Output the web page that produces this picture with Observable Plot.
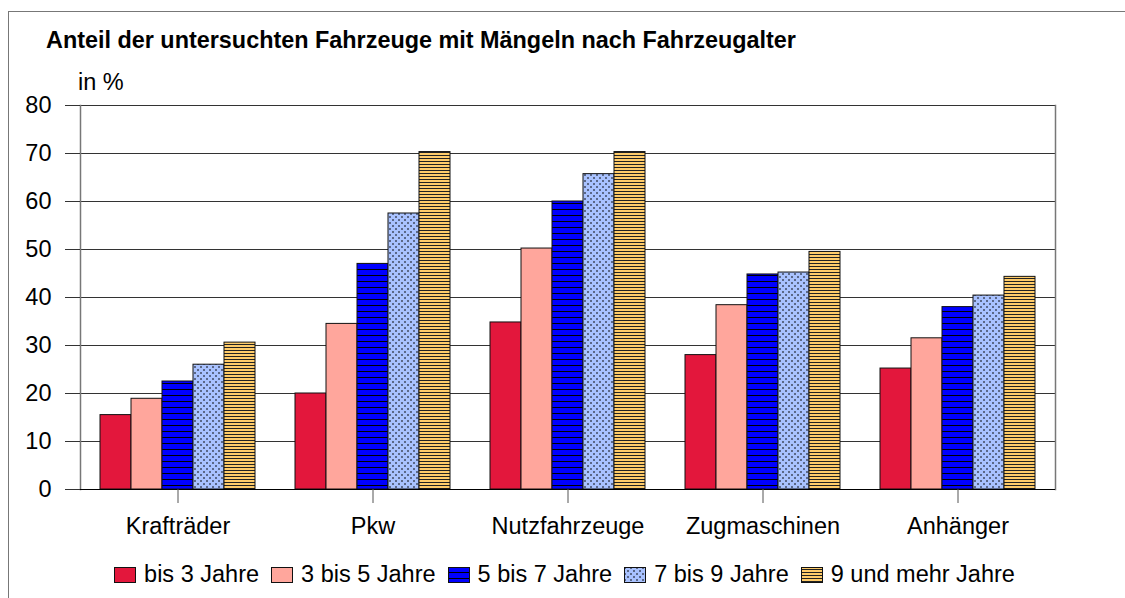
<!DOCTYPE html>
<html><head><meta charset="utf-8">
<script src="https://cdn.jsdelivr.net/npm/d3@7"></script>
<script src="https://cdn.jsdelivr.net/npm/@observablehq/plot@0.6"></script>
<style>
body{margin:0;background:#fff;font-family:"Liberation Sans",Arial,sans-serif;color:#000;}
#wrap{position:relative;width:1125px;height:598px;overflow:hidden;background:#fff;}
#outer{position:absolute;left:8px;top:11px;width:1200px;height:700px;border-top:1.5px solid #777;border-left:1.5px solid #777;}
#title{position:absolute;left:46px;top:27px;font-size:23.4px;line-height:27px;font-weight:bold;white-space:nowrap;}
#unit{position:absolute;left:78px;top:69px;font-size:23.5px;line-height:27px;white-space:nowrap;}
#chart{position:absolute;left:0;top:0;}
#legend{position:absolute;left:0;top:561px;width:1125px;display:flex;justify-content:center;align-items:center;font-size:23.5px;line-height:27px;padding-left:4px;box-sizing:border-box;}
.item{display:flex;align-items:center;margin:0 6px;}
.item svg{margin-right:8px;}
</style></head><body>
<div id="wrap">
<svg width="0" height="0" style="position:absolute">
<defs>
<pattern id="pBlue" patternUnits="userSpaceOnUse" width="6" height="6">
<rect width="6" height="6" fill="#0000ff"/><rect y="5" width="6" height="1" fill="#000"/>
</pattern>
<pattern id="pOrange" patternUnits="userSpaceOnUse" width="3" height="3">
<rect width="3" height="3" fill="#ffcc6a"/><rect y="2" width="3" height="1" fill="#222"/>
</pattern>
<pattern id="pCheck" patternUnits="userSpaceOnUse" width="6" height="6">
<rect width="6" height="6" fill="#a9c2ff"/>
<rect x="0" y="0" width="2" height="2" fill="#5b6888"/>
<rect x="3" y="3" width="2" height="2" fill="#5b6888"/>
</pattern>
</defs>
</svg>
<div id="outer"></div>
<div id="title">Anteil der untersuchten Fahrzeuge mit Mängeln nach Fahrzeugalter</div>
<div id="unit">in %</div>
<div id="chart"></div>
<div id="legend"></div>
</div>
<script>
const categories = ["Krafträder", "Pkw", "Nutzfahrzeuge", "Zugmaschinen", "Anhänger"];
const series = ["bis 3 Jahre", "3 bis 5 Jahre", "5 bis 7 Jahre", "7 bis 9 Jahre", "9 und mehr Jahre"];
const bis3 = [15.5, 20.0, 34.8, 28.0, 25.2];
const bis5 = [18.9, 34.5, 50.2, 38.4, 31.5];
const bis7 = [22.5, 47.0, 60.0, 44.8, 38.0];
const bis9 = [26.0, 57.5, 65.7, 45.2, 40.4];
const ab9 = [30.6, 70.3, 70.3, 49.5, 44.3];
const yTicks = [0, 10, 20, 30, 40, 50, 60, 70, 80];
const fills = ["#e3173c", "#ffa69c", "url(#pBlue)", "url(#pCheck)", "url(#pOrange)"];

const valuesBySeries = [bis3, bis5, bis7, bis9, ab9];
const rows = categories.flatMap((c, i) => series.map((s, j) => ({category: c, series: s, value: valuesBySeries[j][i]})));

const chart = Plot.plot({
  width: 1125, height: 545,
  marginLeft: 78, marginRight: 68, marginTop: 105, marginBottom: 56,
  style: {fontFamily: '"Liberation Sans", Arial, sans-serif', fontSize: "23.5px", background: "transparent", color: "#000"},
  fx: {domain: categories, paddingInner: 0, paddingOuter: 0, label: null},
  x: {domain: series, paddingInner: 0, paddingOuter: 0.625, axis: null},
  y: {domain: [0, 80], label: null},
  color: {domain: series, range: fills},
  marks: [
    Plot.ruleY(yTicks, {y: d => d, stroke: "#333", strokeWidth: 1.2}),
    Plot.frame({anchor: "left", fx: [categories[0]], stroke: "#777", strokeWidth: 1.5}),
    Plot.frame({anchor: "right", fx: [categories[categories.length - 1]], stroke: "#777", strokeWidth: 1.5}),
    Plot.barY(rows, {fx: "category", x: "series", y: "value", fill: "series", stroke: "#111", strokeWidth: 1}),
    Plot.ruleY([0], {stroke: "#000", strokeWidth: 1.2}),
    Plot.axisY(yTicks, {tickSize: 15, tickPadding: 14, stroke: "#333", fontSize: 23.5, label: null}),
    Plot.axisFx({anchor: "bottom", tickSize: 14, tickPadding: 14, stroke: "#555", fontSize: 23.5, label: null})
  ]
});
document.getElementById("chart").appendChild(chart);

const legend = document.getElementById("legend");
series.forEach((s, j) => {
  const item = document.createElement("div");
  item.className = "item";
  item.innerHTML = `<svg width="22" height="16"><rect x="0.5" y="0.5" width="21" height="15" fill="${fills[j]}" stroke="#111" stroke-width="1"/></svg><span>${s}</span>`;
  legend.appendChild(item);
});
</script>
</body></html>
